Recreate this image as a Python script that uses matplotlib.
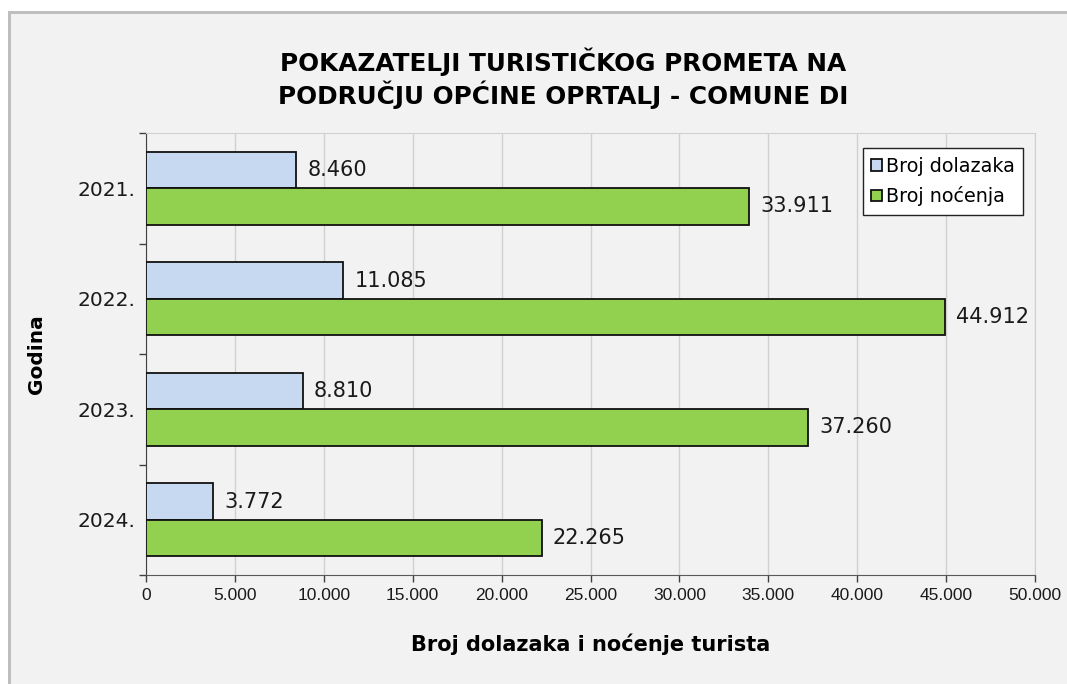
import matplotlib.pyplot as plt
from matplotlib.patches import Rectangle
import numpy as np

# Data
years = ['2021.', '2022.', '2023.', '2024.']
dolasci = [8460, 11085, 8810, 3772]
nocenja = [33911, 44912, 37260, 22265]
xticks = list(range(0, 50001, 5000))

blue = '#c6d9f1'
green = '#92d050'
bg = '#f2f2f2'


def fmt(v):
    return f'{v:,}'.replace(',', '.')


W, H = 1067, 684
fig = plt.figure(figsize=(W / 100, H / 100), dpi=100, facecolor='white')

# grey frame on top/left, like the original screenshot
fig.patches.append(Rectangle((8 / W, 0), 1, 1 - 11 / H, transform=fig.transFigure,
                             facecolor='#bebebe', edgecolor='none', zorder=-10))
fig.patches.append(Rectangle((11 / W, 0), 1, 1 - 14 / H, transform=fig.transFigure,
                             facecolor=bg, edgecolor='none', zorder=-9))

ax = fig.add_axes([146 / W, 1 - 575 / H, (1035 - 146) / W, (575 - 133) / H])
ax.set_facecolor(bg)

y = np.arange(len(years))
h = 0.33
b1 = ax.barh(y - h / 2, dolasci, height=h, color=blue, edgecolor='#111111', linewidth=1.3,
             label='Broj dolazaka', zorder=3)
b2 = ax.barh(y + h / 2, nocenja, height=h, color=green, edgecolor='#111111', linewidth=1.3,
             label='Broj noćenja', zorder=3)

ax.bar_label(b1, labels=[fmt(v) for v in dolasci], padding=8, fontsize=15, color='#1a1a1a')
ax.bar_label(b2, labels=[fmt(v) for v in nocenja], padding=8, fontsize=15, color='#1a1a1a')

ax.set_xlim(0, 50000)
ax.set_ylim(len(years) - 0.5, -0.5)

ax.set_xticks(xticks)
ax.set_xticklabels([fmt(v) for v in xticks], fontsize=12.5, family='Liberation Sans',
                   color='#1a1a1a')
ax.set_yticks(y)
ax.set_yticklabels(years, fontsize=14.5, color='#1a1a1a')
ax.set_yticks(np.arange(-0.5, len(years)), minor=True)
ax.tick_params(axis='y', which='major', length=0, pad=8)
ax.tick_params(axis='y', which='minor', length=5, width=1, color='#404040')
ax.tick_params(axis='x', length=5, width=1, color='#404040', pad=4)

ax.grid(axis='x', color='#d0d0d0', linewidth=1, zorder=0)
for s in ['top', 'right']:
    ax.spines[s].set_color('#d0d0d0')
ax.spines['left'].set_color('#404040')
ax.spines['bottom'].set_color('#595959')

ax.set_xlabel('Broj dolazaka i noćenje turista', fontsize=15, fontweight='bold', labelpad=22)
ax.set_ylabel('Godina', fontsize=14.5, fontweight='bold', labelpad=22)

fig.text(563 / W, 1 - 78 / H, 'POKAZATELJI TURISTIČKOG PROMETA NA\nPODRUČJU OPĆINE OPRTALJ - COMUNE DI',
         ha='center', va='center', fontsize=17.8, fontweight='bold', linespacing=1.2)

leg = ax.legend(loc='upper right', bbox_to_anchor=(1023 / W, 1 - 148 / H),
                bbox_transform=fig.transFigure, borderaxespad=0, fontsize=13.8,
                fancybox=False, framealpha=1, edgecolor='#222222',
                handlelength=0.55, handleheight=0.55, handletextpad=0.2, labelspacing=0.55,
                borderpad=0.45)
leg.get_frame().set_linewidth(1)

fig.savefig('out.png', dpi=100, facecolor=fig.get_facecolor())
